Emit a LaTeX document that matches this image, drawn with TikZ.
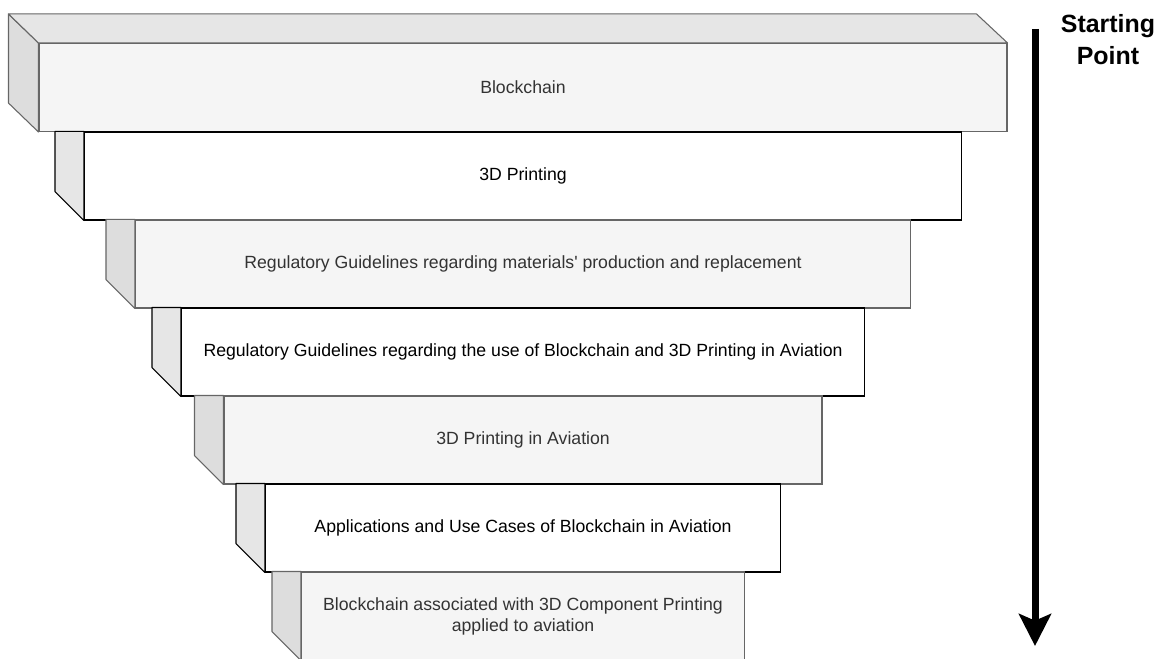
\documentclass[tikz,border=0pt]{standalone}
\usepackage{fontspec}
\setmainfont{Liberation Sans}
\usetikzlibrary{arrows.meta}

\definecolor{frontgray}{HTML}{F5F5F5}
\definecolor{sidegray}{HTML}{DDDDDD}
\definecolor{topgray}{HTML}{E6E6E6}
\definecolor{sidewhite}{HTML}{E6E6E6}
\definecolor{edgegray}{HTML}{666666}
\definecolor{labelgray}{HTML}{333333}

\begin{document}
\begin{tikzpicture}[x=0.75pt, y=-0.75pt,
  greybox/.style={draw=edgegray, fill=frontgray, text=labelgray, line width=0.8pt,
    minimum height=66pt, inner sep=0pt, align=center, font=\fontsize{13.25}{15.75}\selectfont},
  whitebox/.style={greybox, draw=black, fill=white, text=black},
  greyside/.style={draw=edgegray, fill=sidegray, line width=0.8pt, line join=round},
  whiteside/.style={draw=black, fill=sidewhite, line width=0.8pt, line join=round}]

\useasboundingbox (0,0) rectangle (1169,659);

\node (blockchain) at (523,87.5) [greybox, minimum width=726pt] {Blockchain};
\node (printing) at (523,176) [whitebox, minimum width=657.75pt] {3D Printing};
\node (materials) at (523,264) [greybox, minimum width=581.25pt] {Regulatory Guidelines regarding materials\textquotesingle{} production and replacement};
\node (regulation) at (523,352) [whitebox, minimum width=512.25pt] {Regulatory Guidelines regarding the use of Blockchain and 3D Printing in Aviation};
\node (aviation) at (523,440) [greybox, minimum width=448.5pt] {3D Printing in Aviation};
\node (usecases) at (523,528) [whitebox, minimum width=386.25pt] {Applications and Use Cases of Blockchain in Aviation};
\node (combined) at (523,616) [greybox, minimum width=332.25pt] {Blockchain associated with 3D Component Printing\\applied to aviation};

\draw[greyside] (blockchain.south west) -- ++(-30,-29) -- ++(0,-89) -- (blockchain.north west) -- cycle;
\draw[greyside, fill=topgray] (blockchain.north west) -- ++(-30,-29) -- ++(968,0) -- (blockchain.north east) -- cycle;
\draw[whiteside] (printing.south west) -- ++(-29,-29) |- (printing.north west) -- cycle;
\draw[greyside] (materials.south west) -- ++(-29,-29) |- (materials.north west) -- cycle;
\draw[whiteside] (regulation.south west) -- ++(-29,-29) |- (regulation.north west) -- cycle;
\draw[greyside] (aviation.south west) -- ++(-29,-29) |- (aviation.north west) -- cycle;
\draw[whiteside] (usecases.south west) -- ++(-29,-29) |- (usecases.north west) -- cycle;
\draw[greyside] (combined.south west) -- ++(-29,-29) |- (combined.north west) -- cycle;

\node (start) at (1108,40) [align=center, font=\fontsize{18.7}{24}\selectfont\bfseries] {Starting\\Point};
\coordinate (top) at (1035,29);
\coordinate (bottom) at (1035,646);
\draw[line width=5.25pt, -{Stealth[length=24pt, width=24pt, inset=5pt]}] (top) -- (bottom);
\end{tikzpicture}
\end{document}
